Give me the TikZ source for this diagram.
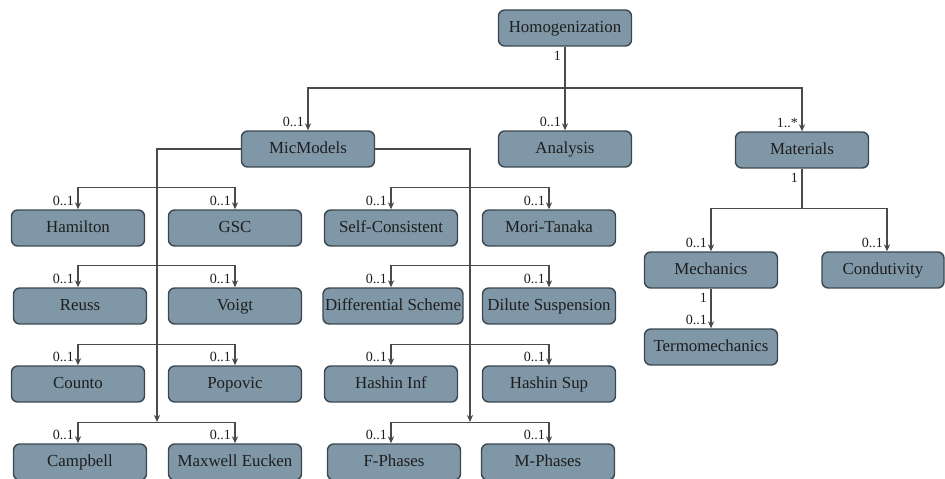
\documentclass[tikz,border=0pt]{standalone}
\usepackage{fontspec}
\setmainfont{Liberation Serif}
\usetikzlibrary{arrows.meta, positioning}
\definecolor{boxfill}{HTML}{7F97A7}
\definecolor{boxline}{HTML}{3A4650}
\definecolor{linkgray}{HTML}{4A4A4A}
\definecolor{textdark}{HTML}{1E1E1E}
\tikzset{
  classbox/.style={rounded corners=3.5pt, minimum width=2.66cm, minimum height=0.72cm,
                   draw=boxline, line width=0.8pt, fill=boxfill, text=textdark,
                   font=\fontsize{9.6}{11}\selectfont, align=center, inner xsep=1pt,
                   text height=1.6ex, text depth=0.45ex},
  rel/.style={-{Stealth[length=4pt, width=3.5pt]}, linkgray, line width=0.6pt},
  relpair/.style={{Stealth[length=4pt, width=3.5pt]}-{Stealth[length=4pt, width=3.5pt]}, linkgray, line width=0.6pt},
  mult/.style={anchor=south east, inner sep=1pt, xshift=-1pt, yshift=1pt,
               font=\fontsize{8}{9}\selectfont, text=textdark},
  multdown/.style={anchor=north east, inner sep=1pt, xshift=-1pt, yshift=-1pt,
                   font=\fontsize{8}{9}\selectfont, text=textdark},
}

\begin{document}
\begin{tikzpicture}[x=0.02cm, y=-0.02cm]
  \useasboundingbox (0,0) rectangle (945,479);

  % Root
  \node[classbox] (homog) at (565,28) {Homogenization};

  % Second level
  \node[classbox] (micmodels) at (308,149) {MicModels};
  \node[classbox] (analysis) at (565,149) {Analysis};
  \node[classbox] (materials) at (802,150) {Materials};

  % MicModels children, left column pair
  \node[classbox] (hamilton) at (78,228) {Hamilton};
  \node[classbox] (gsc) at (235,228) {GSC};
  \node[classbox] (reuss) at (80,306) {Reuss};
  \node[classbox] (voigt) at (235,306) {Voigt};
  \node[classbox] (counto) at (78,384) {Counto};
  \node[classbox] (popovic) at (235,384) {Popovic};
  \node[classbox] (campbell) at (80,462) {Campbell};
  \node[classbox] (maxwell) at (235,462) {Maxwell Eucken};

  % MicModels children, right column pair
  \node[classbox] (selfcons) at (391,228) {Self-Consistent};
  \node[classbox] (moritanaka) at (549,228) {Mori-Tanaka};
  \node[classbox, minimum width=2.8cm] (diffscheme) at (393,306) {Differential Scheme};
  \node[classbox] (dilute) at (549,306) {Dilute Suspension};
  \node[classbox] (hashininf) at (391,384) {Hashin Inf};
  \node[classbox] (hashinsup) at (549,384) {Hashin Sup};
  \node[classbox] (fphases) at (394,462) {F-Phases};
  \node[classbox] (mphases) at (548,462) {M-Phases};

  % Materials children
  \node[classbox] (mechanics) at (711,270) {Mechanics};
  \node[classbox, minimum width=2.44cm] (conduct) at (883,270) {Condutivity};
  \node[classbox] (termo) at (711,347) {Termomechanics};

  % Root links
  \draw[rel] (homog.south) node[multdown] {1} -- (analysis.north) node[mult] {0..1};
  \coordinate (topbar) at (565,88);
  \draw[rel] (topbar) -| (micmodels.north) node[mult] {0..1};
  \draw[rel] (topbar) -| (materials.north) node[mult] {1..*};

  % MicModels trunks
  \coordinate (lefttrunk) at (157,422);
  \coordinate (righttrunk) at (470,422);
  \draw[rel] (micmodels.west) -| (lefttrunk);
  \draw[rel] (micmodels.east) -| (righttrunk);

  % Pair bars
  \draw[relpair] (hamilton.north) node[mult] {0..1} -- ++(0,-22) -| (gsc.north) node[mult] {0..1};
  \draw[relpair] (reuss.north -| hamilton.north) node[mult] {0..1} -- ++(0,-22) -| (voigt.north) node[mult] {0..1};
  \draw[relpair] (counto.north) node[mult] {0..1} -- ++(0,-21) -| (popovic.north) node[mult] {0..1};
  \draw[relpair] (campbell.north -| counto.north) node[mult] {0..1} -- ++(0,-21) -| (maxwell.north) node[mult] {0..1};

  \draw[relpair] (selfcons.north) node[mult] {0..1} -- ++(0,-22) -| (moritanaka.north) node[mult] {0..1};
  \draw[relpair] (diffscheme.north -| selfcons.north) node[mult] {0..1} -- ++(0,-22) -| (dilute.north) node[mult] {0..1};
  \draw[relpair] (hashininf.north) node[mult] {0..1} -- ++(0,-21) -| (hashinsup.north) node[mult] {0..1};
  \draw[relpair] (fphases.north -| hashininf.north) node[mult] {0..1} -- ++(0,-21) -| (mphases.north -| hashinsup.north) node[mult] {0..1};

  % Materials links
  \draw[linkgray, line width=0.6pt] (materials.south) node[multdown] {1} -- ++(0,40) coordinate (matbar);
  \draw[relpair] (mechanics.north) node[mult] {0..1} |- (matbar) -| (conduct.north -| 887,0) node[mult] {0..1};
  \draw[rel] (mechanics.south) node[multdown] {1} -- (termo.north) node[mult] {0..1};
\end{tikzpicture}
\end{document}
